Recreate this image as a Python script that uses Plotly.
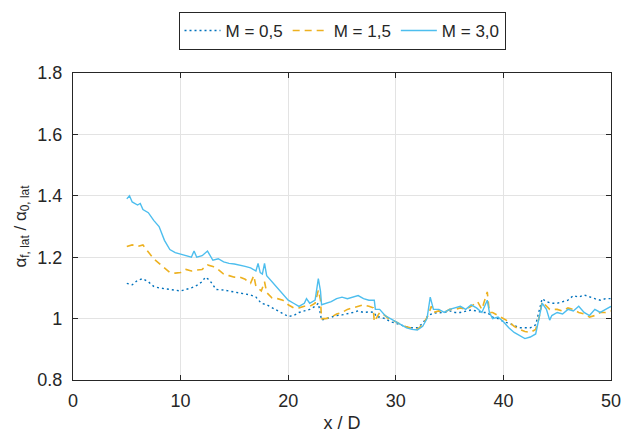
import plotly.graph_objects as go

# M = 0,5 (dotted)
x_05 = [5.0, 5.5, 6.0, 6.5, 7.0, 7.5, 8.0, 8.5, 9.0, 9.5, 10.0, 10.5, 11.0, 11.5, 12.0, 12.3, 12.7, 13.0, 13.3,
        14.0, 14.5, 15.0, 15.5, 16.0, 16.5, 17.0, 17.5, 18.0, 18.5, 19.0, 19.5, 20.0, 20.5, 21.0, 21.5, 22.0,
        22.5, 22.8, 23.1, 23.5, 24.0, 24.5, 25.0, 25.5, 26.0, 26.5, 27.0, 27.5, 28.0, 28.2, 28.5, 29.0, 29.5,
        30.0, 30.5, 31.0, 31.5, 32.0, 32.5, 33.0, 33.5, 34.0, 34.5, 35.0, 35.5, 36.0, 36.5, 37.0, 37.5, 38.0,
        38.5, 39.0, 39.5, 40.0, 40.5, 41.0, 41.5, 42.0, 42.5, 43.0, 43.3, 43.6, 44.0, 44.5, 45.0, 45.5, 46.0,
        46.5, 47.0, 47.5, 48.0, 48.5, 49.0, 49.5, 50.0]
y_05 = [1.115, 1.11, 1.125, 1.13, 1.12, 1.105, 1.10, 1.098, 1.095, 1.093, 1.09, 1.095, 1.10, 1.108, 1.12, 1.135,
        1.125, 1.11, 1.095, 1.093, 1.09, 1.088, 1.083, 1.08, 1.077, 1.07, 1.05, 1.045, 1.035, 1.025, 1.015,
        1.007, 1.01, 1.02, 1.025, 1.03, 1.04, 1.05, 0.995, 1.0, 1.005, 1.01, 1.012, 1.015, 1.02, 1.025, 1.02,
        1.022, 1.02, 1.005, 1.005, 1.0, 0.99, 0.985, 0.978, 0.973, 0.97, 0.97, 0.985, 1.01, 1.018, 1.02, 1.02,
        1.025, 1.02, 1.02, 1.025, 1.028, 1.025, 1.02, 1.02, 1.005, 1.0, 0.99, 0.985, 0.978, 0.97, 0.97, 0.97,
        0.98, 1.02, 1.065, 1.055, 1.05, 1.05, 1.055, 1.06, 1.075, 1.07, 1.077, 1.07, 1.065, 1.06, 1.065, 1.065]

# M = 1,5 (dashed)
x_15 = [5.0, 5.5, 6.0, 6.5, 7.0, 7.5, 8.0, 8.5, 9.0, 9.5, 10.0, 10.5, 11.0, 11.5, 12.0, 12.5, 13.0, 13.5, 14.0,
        14.5, 15.0, 15.5, 16.0, 16.5, 16.8, 17.0, 17.5, 17.8, 18.0, 18.5, 19.0, 19.5, 20.0, 20.5, 21.0, 21.5,
        22.0, 22.5, 22.8, 23.0, 23.1, 23.5, 24.0, 24.5, 25.0, 25.5, 26.0, 26.5, 27.0, 27.5, 27.9, 28.0, 28.5,
        29.0, 29.5, 30.0, 30.5, 31.0, 31.5, 32.0, 32.5, 33.0, 33.3, 33.5, 34.0, 34.5, 35.0, 35.5, 36.0, 36.5,
        37.0, 37.6, 38.0, 38.5, 38.7, 39.0, 39.5, 40.0, 40.5, 41.0, 41.5, 42.0, 42.5, 43.0, 43.3, 43.6, 44.0,
        44.3, 45.0, 45.5, 46.0, 46.5, 47.0, 47.5, 48.0, 48.5, 49.0, 49.5, 50.0]
y_15 = [1.235, 1.24, 1.235, 1.24, 1.217, 1.195, 1.18, 1.165, 1.15, 1.148, 1.15, 1.16, 1.155, 1.158, 1.16, 1.175,
        1.17, 1.16, 1.145, 1.14, 1.135, 1.135, 1.128, 1.115, 1.14, 1.105, 1.09, 1.12, 1.085, 1.067, 1.065, 1.06,
        1.045, 1.035, 1.035, 1.04, 1.04, 1.05, 1.093, 1.06, 1.0, 1.0, 1.005, 1.015, 1.02, 1.03, 1.035, 1.04,
        1.045, 1.04, 1.035, 0.99, 1.02, 1.01, 0.995, 0.99, 0.98, 0.973, 0.97, 0.965, 0.98, 1.01, 1.04, 1.02,
        1.025, 1.02, 1.03, 1.03, 1.035, 1.03, 1.04, 1.055, 1.03, 1.087, 1.02, 1.02, 1.01, 1.0, 0.99, 0.975,
        0.965, 0.958, 0.955, 0.965, 1.0, 1.055, 1.04, 1.03, 1.03, 1.025, 1.035, 1.03, 1.02, 1.015, 1.005, 1.01,
        1.02, 1.02, 1.025]

# M = 3,0 (solid)
x_30 = [5.0, 5.25, 5.5, 6.0, 6.25, 6.5, 7.0, 7.5, 8.0, 8.5, 9.0, 9.5, 10.0, 10.5, 11.0, 11.25, 11.5, 12.0, 12.5,
        13.0, 13.5, 14.0, 14.5, 15.0, 15.5, 16.0, 16.5, 17.0, 17.2, 17.4, 17.6, 17.8, 18.0, 18.5, 19.0, 19.5,
        20.0, 20.5, 21.0, 21.5, 21.7, 22.0, 22.5, 22.8, 23.0, 23.1, 23.5, 24.0, 24.5, 25.0, 25.5, 26.0, 26.5,
        27.0, 27.5, 28.0, 28.1, 28.5, 29.0, 29.5, 30.0, 30.5, 31.0, 31.5, 32.0, 32.5, 32.9, 33.2, 33.5, 34.0,
        34.5, 35.0, 35.5, 36.0, 36.5, 37.0, 37.5, 38.0, 38.5, 38.7, 39.0, 39.5, 40.0, 40.5, 41.0, 41.5, 42.0,
        42.5, 43.0, 43.3, 43.6, 44.0, 44.3, 44.5, 45.0, 45.5, 46.0, 46.5, 47.0, 47.5, 48.0, 48.5, 49.0, 49.5,
        50.0]
y_30 = [1.39, 1.40, 1.38, 1.37, 1.375, 1.355, 1.345, 1.32, 1.30, 1.255, 1.225, 1.215, 1.21, 1.205, 1.20, 1.22,
        1.20, 1.205, 1.22, 1.19, 1.195, 1.185, 1.18, 1.178, 1.175, 1.17, 1.165, 1.155, 1.18, 1.15, 1.145, 1.18,
        1.14, 1.12, 1.10, 1.08, 1.06, 1.05, 1.04, 1.05, 1.065, 1.05, 1.06, 1.13, 1.09, 1.045, 1.05, 1.055, 1.065,
        1.07, 1.065, 1.07, 1.075, 1.065, 1.06, 1.06, 1.03, 1.03, 1.01, 1.0, 0.99, 0.98, 0.97, 0.965, 0.963,
        0.975, 1.0, 1.07, 1.03, 1.03, 1.02, 1.03, 1.035, 1.04, 1.03, 1.045, 1.035, 1.02, 1.06, 1.02, 1.0, 1.005,
        0.99, 0.97, 0.955, 0.945, 0.935, 0.94, 0.95, 1.0, 1.05, 1.03, 0.995, 1.01, 1.02, 1.015, 1.03, 1.025,
        1.04, 1.02, 1.01, 1.03, 1.02, 1.03, 1.04]

x_ticks = [0, 10, 20, 30, 40, 50]
y_ticks = [0.8, 1.0, 1.2, 1.4, 1.6, 1.8]
y_tick_labels = ["0.8", "1", "1.2", "1.4", "1.6", "1.8"]

font_family = "Liberation Sans, Arial, sans-serif"

fig = go.Figure()
fig.add_trace(go.Scatter(x=x_05, y=y_05, mode="lines", name="M = 0,5",
                         line=dict(color="#0072BD", width=1.4, dash="2px,3px")))
fig.add_trace(go.Scatter(x=x_15, y=y_15, mode="lines", name="M = 1,5",
                         line=dict(color="#EDB120", width=1.6, dash="7px,5px")))
fig.add_trace(go.Scatter(x=x_30, y=y_30, mode="lines", name="M = 3,0",
                         line=dict(color="#4DBEEE", width=1.4)))

axis_common = dict(showline=True, linecolor="#262626", linewidth=1.2, mirror="ticks",
                   ticks="inside", ticklen=5, tickcolor="#262626", automargin=False,
                   showgrid=True, gridcolor="#e3e3e3", gridwidth=1, zeroline=False,
                   tickfont=dict(family=font_family, size=18, color="#262626"))

fig.update_layout(
    width=623, height=438,
    margin=dict(l=73, r=12, t=73, b=58),
    paper_bgcolor="white", plot_bgcolor="white",
    font=dict(family=font_family, color="#262626"),
    xaxis=dict(range=[0, 50], tickvals=x_ticks, ticklabelstandoff=4,
               title=dict(text="x / D", font=dict(family=font_family, size=18), standoff=6),
               **axis_common),
    yaxis=dict(range=[0.8, 1.8], tickvals=y_ticks, ticktext=y_tick_labels, ticklabelstandoff=6,
               title=dict(text="α<sub>f, lat</sub> / α<sub>0, lat</sub>",
                          font=dict(family=font_family, size=17), standoff=6),
               **axis_common),
    legend=dict(orientation="h", x=0.5, xanchor="center", y=1.199, yanchor="top",
                bordercolor="#262626", borderwidth=1, bgcolor="white",
                font=dict(family=font_family, size=17, color="#262626"),
                itemwidth=36, tracegroupgap=0),
    showlegend=True,
)

fig.write_html("out.html", config={"displayModeBar": False},
               post_script="document.body.style.margin='0';")
